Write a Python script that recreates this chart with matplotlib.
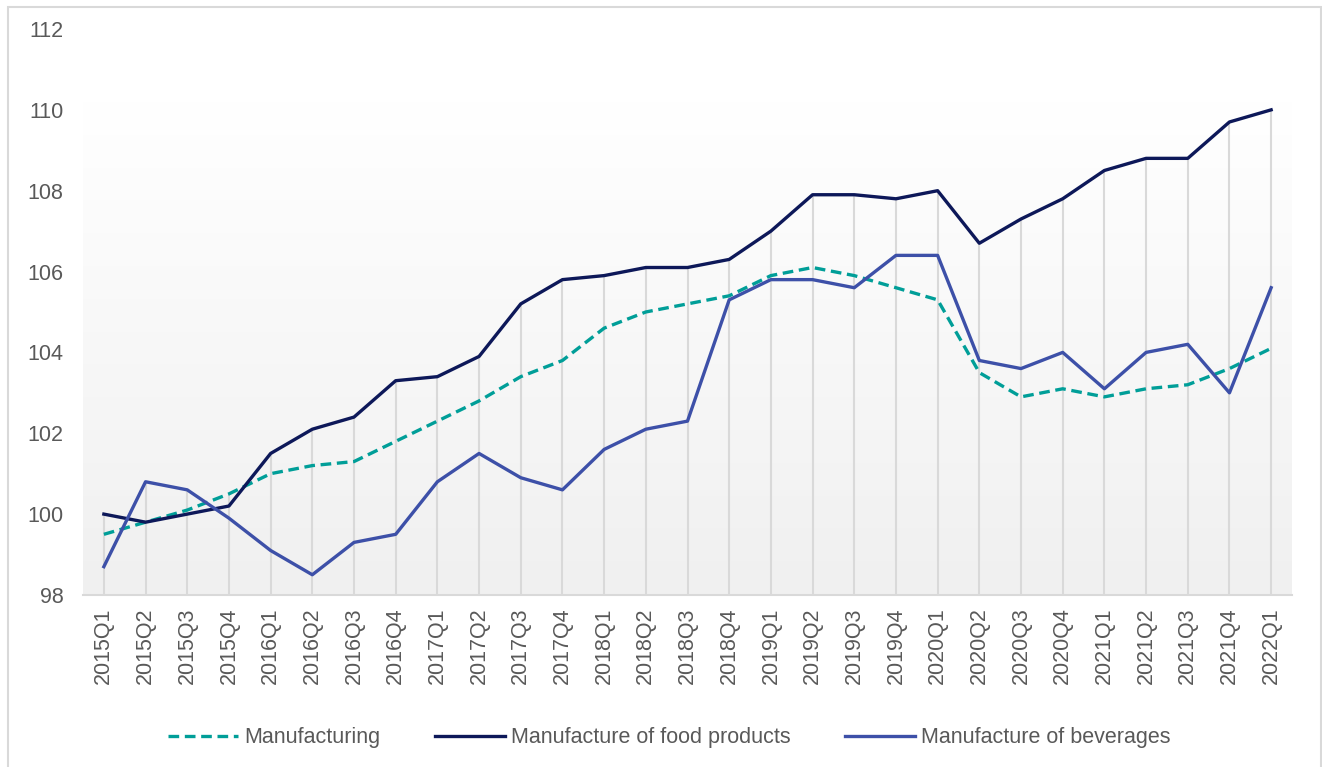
import numpy as np
import matplotlib
matplotlib.use("Agg")
import matplotlib.pyplot as plt
from matplotlib.patches import Rectangle

plt.rcParams['font.family'] = ['Liberation Sans', 'DejaVu Sans']

quarters = ["2015Q1", "2015Q2", "2015Q3", "2015Q4",
            "2016Q1", "2016Q2", "2016Q3", "2016Q4",
            "2017Q1", "2017Q2", "2017Q3", "2017Q4",
            "2018Q1", "2018Q2", "2018Q3", "2018Q4",
            "2019Q1", "2019Q2", "2019Q3", "2019Q4",
            "2020Q1", "2020Q2", "2020Q3", "2020Q4",
            "2021Q1", "2021Q2", "2021Q3", "2021Q4",
            "2022Q1"]

manufacturing = [99.5, 99.8, 100.1, 100.5,
                 101.0, 101.2, 101.3, 101.8,
                 102.3, 102.8, 103.4, 103.8,
                 104.6, 105.0, 105.2, 105.4,
                 105.9, 106.1, 105.9, 105.6,
                 105.3, 103.5, 102.9, 103.1,
                 102.9, 103.1, 103.2, 103.6,
                 104.1]

food = [100.0, 99.8, 100.0, 100.2,
        101.5, 102.1, 102.4, 103.3,
        103.4, 103.9, 105.2, 105.8,
        105.9, 106.1, 106.1, 106.3,
        107.0, 107.9, 107.9, 107.8,
        108.0, 106.7, 107.3, 107.8,
        108.5, 108.8, 108.8, 109.7,
        110.0]

beverages = [98.7, 100.8, 100.6, 99.9,
             99.1, 98.5, 99.3, 99.5,
             100.8, 101.5, 100.9, 100.6,
             101.6, 102.1, 102.3, 105.3,
             105.8, 105.8, 105.6, 106.4,
             106.4, 103.8, 103.6, 104.0,
             103.1, 104.0, 104.2, 103.0,
             105.6]

yticks = [98, 100, 102, 104, 106, 108, 110, 112]

text_col = "#595959"
grid_col = "#d9d9d9"

fig = plt.figure(figsize=(13.22, 7.67), dpi=100)
ax = fig.add_axes([0.0628, 0.2243, 0.9145, 0.7379])

x = np.arange(len(quarters))
n = len(quarters)

# gradient plot area (white at top to light grey at bottom)
grad = np.linspace(1.0, 0.0, 256).reshape(-1, 1)
ax.imshow(grad, extent=[-0.5, n - 0.5, 98, 110.2], aspect='auto',
          cmap=matplotlib.colors.LinearSegmentedColormap.from_list(
              "g", ["#f0f0f0", "#ffffff"]),
          vmin=0, vmax=1, zorder=0, origin='upper')

# drop lines from the highest series down to the axis
top = np.maximum(np.maximum(manufacturing, food), beverages)
ax.vlines(x, 98, top, color=grid_col, lw=1.5, zorder=1)

ax.plot(x, manufacturing, color="#009e98", lw=2.4, dashes=(3.2, 1.7),
        label="Manufacturing", zorder=3)
ax.plot(x, food, color="#0d1859", lw=2.4,
        label="Manufacture of food products", zorder=3)
ax.plot(x, beverages, color="#3d50a8", lw=2.4,
        label="Manufacture of beverages", zorder=3)

ax.set_xlim(-0.5, n - 0.5)
ax.set_ylim(98, 112)
ax.set_yticks(yticks)
ax.set_xticks(x)
ax.set_xticklabels(quarters, rotation=90)
ax.tick_params(axis='y', length=0, pad=14, labelsize=15.5, labelcolor=text_col)
ax.tick_params(axis='x', length=0, pad=9, labelsize=15.5, labelcolor=text_col)

for s in ['top', 'right', 'left']:
    ax.spines[s].set_visible(False)
ax.spines['bottom'].set_color(grid_col)
ax.spines['bottom'].set_linewidth(1.5)
ax.set_facecolor('none')

leg = fig.legend(loc='center', bbox_to_anchor=(0.5064, 0.038), ncol=3,
                 frameon=False, fontsize=15.5, handlelength=3.25,
                 columnspacing=2.55, handletextpad=0.28)
for t in leg.get_texts():
    t.set_color(text_col)

# chart border
fig.patches.append(Rectangle((8 / 1322, -0.02), (1321 - 8) / 1322, (767 - 7) / 767 + 0.02,
                             transform=fig.transFigure, fill=False,
                             edgecolor=grid_col, lw=1.5))

fig.savefig("out.png", dpi=100)
